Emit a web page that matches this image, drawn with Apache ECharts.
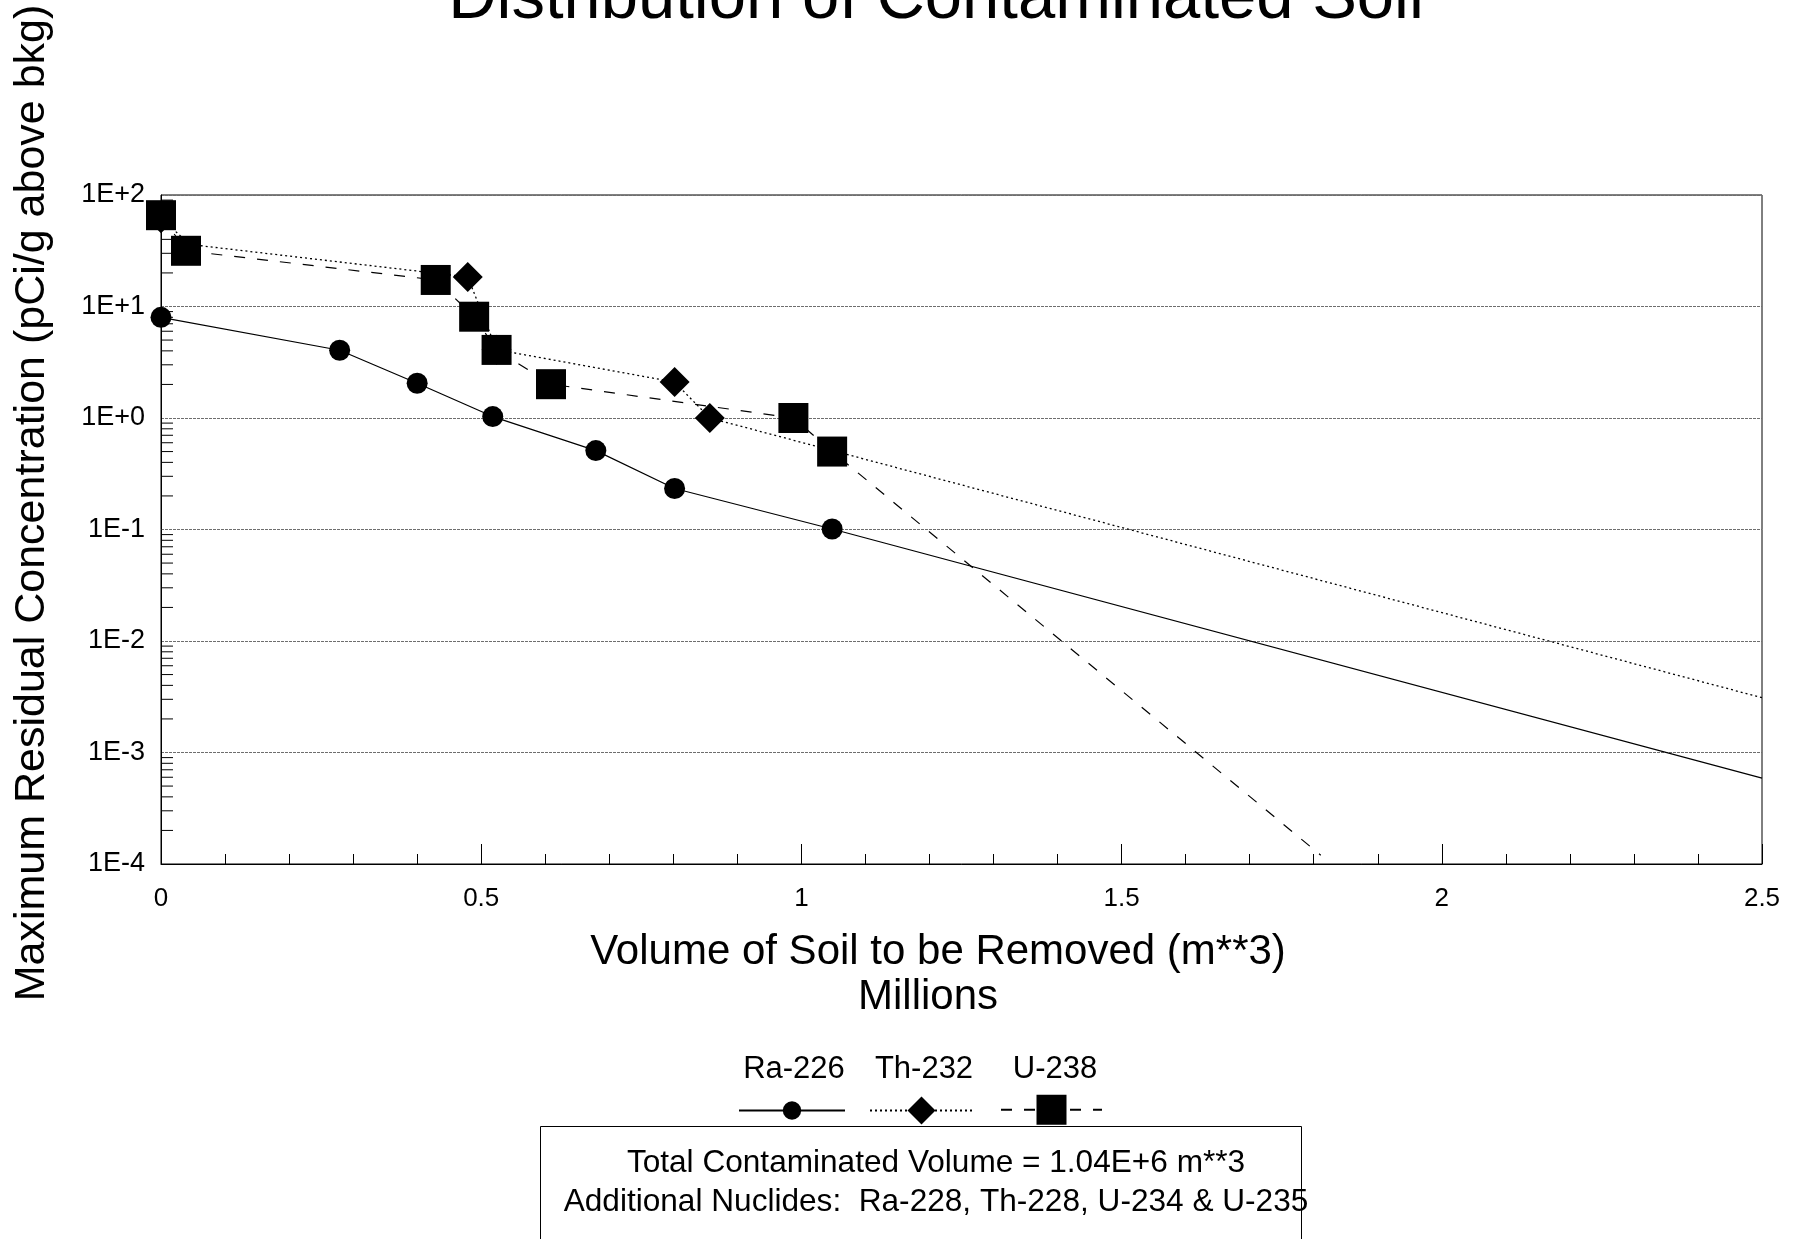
<!DOCTYPE html>
<html>
<head>
<meta charset="utf-8">
<script src="https://cdn.jsdelivr.net/npm/echarts@6/dist/echarts.min.js"></script>
<style>
  html, body { margin: 0; padding: 0; background: #fff; }
  #main { width: 1793px; height: 1239px; }
</style>
</head>
<body>
<div id="main"></div>
<script>
// measured points (volume in millions m**3, concentration pCi/g)
var raX = [0, 0.279, 0.40, 0.518, 0.679, 0.802, 1.048];
var raY = [8.0, 4.05, 2.05, 1.03, 0.51, 0.233, 0.101];
var raTail = [2.5, 5.9e-4];

var thX = [0, 0.045, 0.479, 0.524, 0.802, 0.857];
var thY = [62, 36, 18.4, 4.1, 2.1, 1.0];
var thShown = [1, 0, 1, 1, 1, 1];   // second point has no visible marker in the original
var thTail = [2.5, 3.1e-3];

var uX = [0, 0.039, 0.429, 0.489, 0.524, 0.609, 0.9875, 1.048];
var uY = [65.9, 31.6, 17.3, 8.1, 4.08, 2.01, 1.0, 0.5];
var uTail = [1.811, 1.2e-4];

var yTickLabels = ['1E-4', '1E-3', '1E-2', '1E-1', '1E+0', '1E+1', '1E+2'];
var xTickLabels = ['0', '0.5', '1', '1.5', '2', '2.5'];

var FONT = 'Liberation Sans, Arial, sans-serif';

// minor ticks for log axis (2..9 in each decade)
var yMinorTicks = [];
for (var e = -4; e < 2; e++) {
  for (var m = 2; m <= 9; m++) yMinorTicks.push(m * Math.pow(10, e));
}

function build(xs, ys, tail, shown) {
  var d = xs.map(function (x, i) {
    if (shown && !shown[i]) return { value: [x, ys[i]], symbol: 'none' };
    return [x, ys[i]];
  });
  d.push({ value: tail, symbol: 'none' });
  return d;
}

var chartDom = document.getElementById('main');
var myChart = echarts.init(chartDom);

var option = {
  animation: false,
  backgroundColor: '#fff',
  grid: {
    left: 161, right: 31, top: 195, bottom: 375,
    show: true, borderColor: '#000', borderWidth: 1
  },
  xAxis: {
    type: 'value', min: 0, max: 2.5, interval: 0.5,
    axisLine: { lineStyle: { color: '#000', width: 1 } },
    axisTick: { inside: true, length: 20, lineStyle: { color: '#000' } },
    minorTick: { show: true, splitNumber: 5, length: 10, lineStyle: { color: '#000' } },
    splitLine: { show: false },
    axisLabel: {
      margin: 22, color: '#000', fontSize: 26, fontFamily: FONT,
      formatter: function (v) { return xTickLabels[Math.round(v / 0.5)]; }
    }
  },
  yAxis: {
    type: 'log', logBase: 10, min: 1e-4, max: 100, interval: 1,
    axisLine: { lineStyle: { color: '#000', width: 1 } },
    axisTick: { show: false },
    splitLine: { show: true, lineStyle: { color: '#6e6e6e', width: 1, type: [3, 1] } },
    axisLabel: {
      margin: 16, color: '#000', fontSize: 27, fontFamily: FONT,
      formatter: function (v) { return yTickLabels[Math.round(Math.log10(v)) + 4]; }
    }
  },
  legend: [
    { data: ['Ra-226'], left: 738, top: 1099, padding: 0, itemWidth: 106, itemHeight: 23,
      formatter: function () { return ''; }, selectedMode: false },
    { data: ['Th-232'], left: 869, top: 1093, padding: 0, itemWidth: 103, itemHeight: 35,
      formatter: function () { return ''; }, selectedMode: false },
    { data: ['U-238'], left: 1000, top: 1091, padding: 0, itemWidth: 101, itemHeight: 37.5,
      formatter: function () { return ''; }, selectedMode: false }
  ],
  series: [
    {
      type: 'custom', silent: true, clip: false,
      data: yMinorTicks.map(function (v) { return [0, v]; }),
      encode: { x: 0, y: 1 },
      renderItem: function (params, api) {
        var p = api.coord([0, api.value(1)]);
        return { type: 'line', shape: { x1: p[0], y1: p[1], x2: p[0] + 12, y2: p[1] },
          style: { stroke: '#000', lineWidth: 1 } };
      }
    },
    {
      name: 'Ra-226', type: 'line', symbol: 'circle', symbolSize: 21,
      itemStyle: { color: '#000' },
      lineStyle: { color: '#000', width: 1.2, type: 'solid' },
      data: build(raX, raY, raTail)
    },
    {
      name: 'Th-232', type: 'line', symbol: 'diamond', symbolSize: 30,
      itemStyle: { color: '#000' },
      lineStyle: { color: '#000', width: 1.3, type: [2, 3] },
      data: build(thX, thY, thTail, thShown)
    },
    {
      name: 'U-238', type: 'line', symbol: 'rect', symbolSize: 30,
      itemStyle: { color: '#000' },
      lineStyle: { color: '#000', width: 1.2, type: [11, 12] },
      data: build(uX, uY, uTail)
    }
  ],
  graphic: [
    { type: 'text', x: 936, y: 0, style: { text: 'Distribution of Contaminated Soil',
      font: '67px ' + FONT, fill: '#000', align: 'center', verticalAlign: 'middle' } },
    { type: 'text', x: 32, y: 503, rotation: Math.PI / 2, style: {
      text: 'Maximum Residual Concentration (pCi/g above bkg)',
      font: '43px ' + FONT, fill: '#000', align: 'center', verticalAlign: 'middle' } },
    { type: 'text', x: 938, y: 952, style: { text: 'Volume of Soil to be Removed (m**3)',
      font: '42px ' + FONT, fill: '#000', align: 'center', verticalAlign: 'middle' } },
    { type: 'text', x: 928, y: 997, style: { text: 'Millions',
      font: '42px ' + FONT, fill: '#000', align: 'center', verticalAlign: 'middle' } },
    { type: 'text', x: 794, y: 1069, style: { text: 'Ra-226',
      font: '31px ' + FONT, fill: '#000', align: 'center', verticalAlign: 'middle' } },
    { type: 'text', x: 924, y: 1069, style: { text: 'Th-232',
      font: '31px ' + FONT, fill: '#000', align: 'center', verticalAlign: 'middle' } },
    { type: 'text', x: 1055, y: 1069, style: { text: 'U-238',
      font: '31px ' + FONT, fill: '#000', align: 'center', verticalAlign: 'middle' } },
    { type: 'rect', shape: { x: 540.5, y: 1126.5, width: 761, height: 200 },
      style: { fill: 'none', stroke: '#000', lineWidth: 1 } },
    { type: 'text', x: 936, y: 1163, style: { text: 'Total Contaminated Volume = 1.04E+6 m**3',
      font: '31.6px ' + FONT, fill: '#000', align: 'center', verticalAlign: 'middle' } },
    { type: 'text', x: 936, y: 1202, style: { text: 'Additional Nuclides:  Ra-228, Th-228, U-234 & U-235',
      font: '31.6px ' + FONT, fill: '#000', align: 'center', verticalAlign: 'middle' } }
  ]
};
myChart.setOption(option);
</script>
</body>
</html>
